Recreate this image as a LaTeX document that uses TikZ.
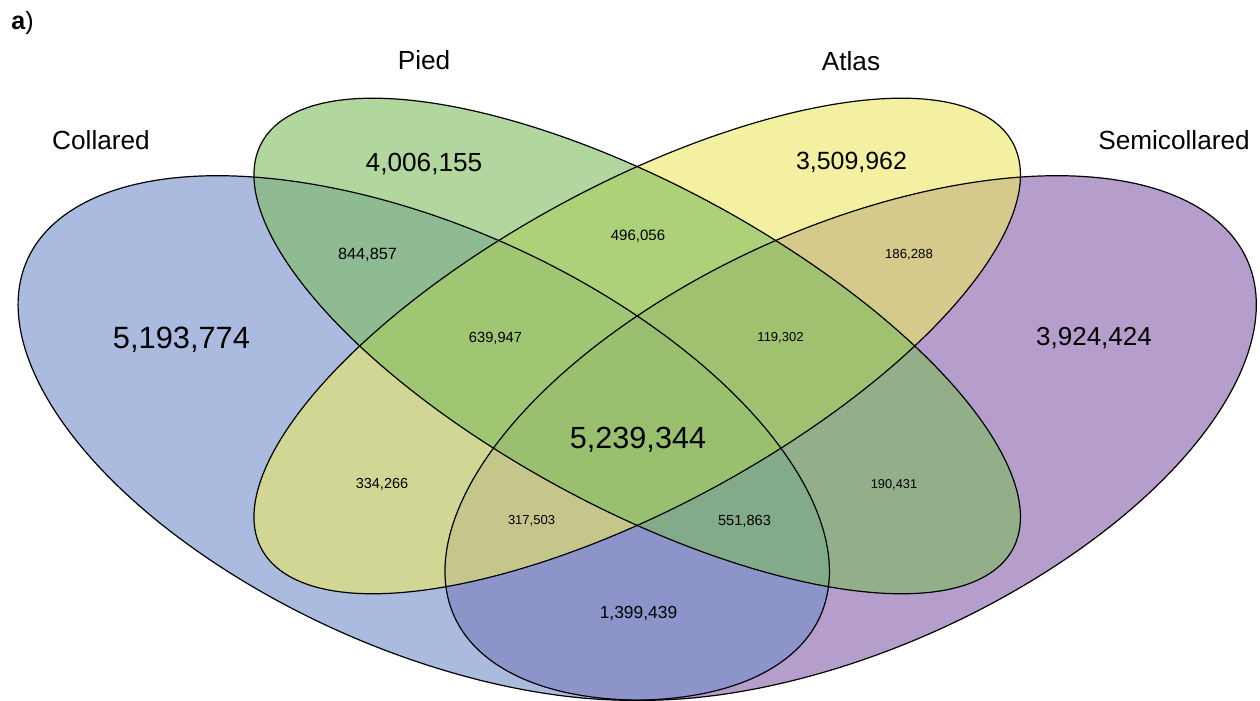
\documentclass[tikz,border=0pt]{standalone}
\usepackage{fontspec}
\setmainfont{Liberation Sans}
\usepackage{tikz}
\definecolor{vblue}{RGB}{115,142,202}
\definecolor{vgreen}{RGB}{125,188,95}
\definecolor{vyellow}{RGB}{235,232,98}
\definecolor{vpurple}{RGB}{132,93,168}
\newcommand{\fsz}[1]{\fontsize{#1}{#1}\selectfont}
\tikzset{cnt/.style={anchor=base,inner sep=0pt},
  ell/.style={fill opacity=0.6},
  rim/.style={line width=0.6pt}}

\begin{document}
\begin{tikzpicture}[x=0.5pt,y=0.5pt]
\useasboundingbox (0,0) rectangle (1260,701);
\begin{scope}[shift={(-74.3,-169.4)},xscale=1423,yscale=920]
\fill[vpurple,ell,shift={(0.65,0.47)},rotate=45] (0,0) ellipse [x radius=0.35,y radius=0.2];
\fill[vblue,ell,shift={(0.35,0.47)},rotate=135] (0,0) ellipse [x radius=0.35,y radius=0.2];
\fill[vyellow,ell,shift={(0.5,0.57)},rotate=45] (0,0) ellipse [x radius=0.35,y radius=0.15];
\fill[vgreen,ell,shift={(0.5,0.57)},rotate=135] (0,0) ellipse [x radius=0.35,y radius=0.15];
\draw[rim,shift={(0.65,0.47)},rotate=45] (0,0) ellipse [x radius=0.35,y radius=0.2];
\draw[rim,shift={(0.35,0.47)},rotate=135] (0,0) ellipse [x radius=0.35,y radius=0.2];
\draw[rim,shift={(0.5,0.57)},rotate=45] (0,0) ellipse [x radius=0.35,y radius=0.15];
\draw[rim,shift={(0.5,0.57)},rotate=135] (0,0) ellipse [x radius=0.35,y radius=0.15];
\end{scope}
\draw (11,671.5) node[cnt,anchor=base west,font=\fsz{12.5}] (tag) {\bfseries a\mdseries)};
\draw (101,551) node[cnt,font=\fsz{13.1}] (collared) {Collared};
\draw (424,631) node[cnt,font=\fsz{13.1}] (pied) {Pied};
\draw (851,630.3) node[cnt,font=\fsz{13.1}] (atlas) {Atlas};
\draw (1174,551) node[cnt,font=\fsz{13.1}] (semicollared) {Semicollared};
\draw (181.5,352.7) node[cnt,font=\fsz{15.4}] (nC) {5,193,774};
\draw (424,529.3) node[cnt,font=\fsz{13.1}] (nP) {4,006,155};
\draw (851.5,531) node[cnt,font=\fsz{12.45}] (nA) {3,509,962};
\draw (1094,355) node[cnt,font=\fsz{13}] (nS) {3,924,424};
\draw (367.5,441) node[cnt,font=\fsz{8.15}] (nCP) {844,857};
\draw (638,460) node[cnt,font=\fsz{7.5}] (nPA) {496,056};
\draw (909,442) node[cnt,font=\fsz{6.6}] (nAS) {186,288};
\draw (495.5,358) node[cnt,font=\fsz{7.35}] (nCPA) {639,947};
\draw (780.5,359) node[cnt,font=\fsz{6.5}] (nPAS) {119,302};
\draw (638,252) node[cnt,font=\fsz{15.3}] (nAll) {5,239,344};
\draw (382,212) node[cnt,font=\fsz{7.25}] (nCA) {334,266};
\draw (531.5,176) node[cnt,font=\fsz{6.5}] (nCAS) {317,503};
\draw (744.5,175) node[cnt,font=\fsz{7.3}] (nCPS) {551,863};
\draw (894,212) node[cnt,font=\fsz{6.4}] (nPS) {190,431};
\draw (638.5,82) node[cnt,font=\fsz{8.7}] (nCS) {1,399,439};
\end{tikzpicture}
\end{document}
